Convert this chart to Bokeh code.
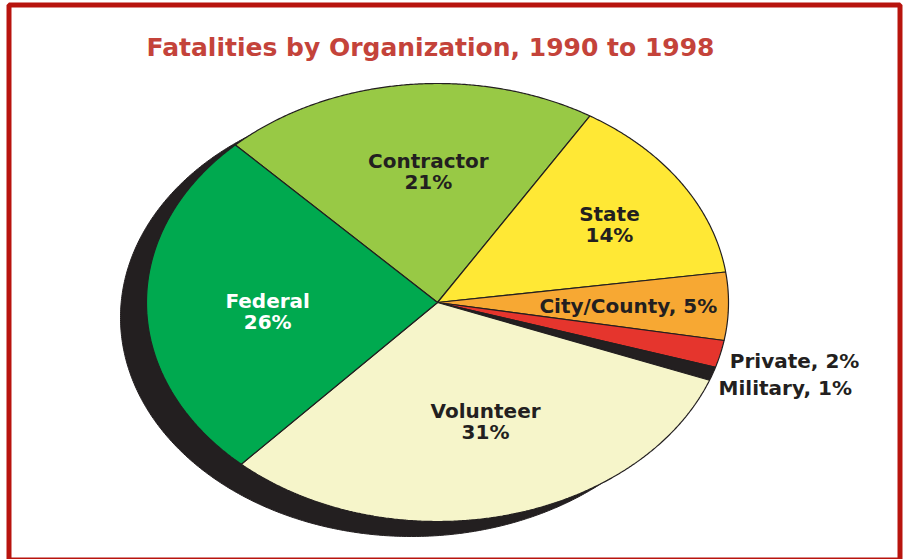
import numpy as np
from bokeh.plotting import figure
from bokeh.models import Range1d, ColumnDataSource
from bokeh.embed import file_html
from bokeh.resources import INLINE
from bokeh.core.properties import value

# ---------------- data ----------------
title_text = "Fatalities by Organization, 1990 to 1998"
categories = ["Contractor", "State", "City/County", "Private", "Military", "Volunteer", "Federal"]
percentages = [21, 14, 5, 2, 1, 31, 26]
colors = ["#98C945", "#FFE835", "#F7A833", "#E5352D", "#231F20", "#F6F5CA", "#00A94F"]

# ---------------- styles / layout ----------------
label_two_line = [True, True, False, False, False, True, True]
label_colors = ["#231F20", "#231F20", "#231F20", "#231F20", "#231F20", "#231F20", "#FFFFFF"]
label_r = [0.60, 0.69, 0.656, 1.04, 1.041, 0.568, 0.585]     # fraction of radius
label_dtheta = [-3.2, -2.1, -0.2, -1.4, -2.9, 3.5, 3.2]        # degrees nudge
label_align = ["center", "center", "center", "left", "left", "center", "center"]

W, H = 905, 559
cx, cy, rx, ry = 437.0, 302.0, 291.0, 219.0
shadow_dx, shadow_dy = -26.0, 15.0
start_angle = 134.0
FONT = value("DejaVu Sans")
LABEL_SIZE = "20px"

p = figure(width=W, height=H, output_backend="svg", toolbar_location=None,
           x_range=Range1d(0, W), y_range=Range1d(H, 0),
           x_axis_location=None, y_axis_location=None, min_border=0,
           min_border_left=0, min_border_right=0, min_border_top=0, min_border_bottom=0)
p.grid.visible = False
p.background_fill_color = "white"
p.border_fill_color = "white"
p.outline_line_color = None

# frame border
p.quad(left=[8.5], right=[899.5], top=[4.5], bottom=[559.5], fill_color=None,
       line_color="#B8140E", line_width=5)

# shadow
t = np.radians(np.linspace(0, 360, 721))
p.patch(cx + shadow_dx + rx * np.cos(t), cy + shadow_dy - ry * np.sin(t),
        fill_color="#231F20", line_color="#231F20", line_width=1)

# slices
fr = np.array(percentages, dtype=float) / sum(percentages)
ends = start_angle - 360.0 * np.cumsum(fr)
starts = ends + 360.0 * fr
xs, ys = [], []
for a0, a1 in zip(starts, ends):
    n = max(int(abs(a0 - a1) * 3), 6)
    tt = np.radians(np.linspace(a0, a1, n))
    xs.append(np.concatenate([[cx], cx + rx * np.cos(tt), [cx]]).tolist())
    ys.append(np.concatenate([[cy], cy - ry * np.sin(tt), [cy]]).tolist())
src = ColumnDataSource(dict(xs=xs, ys=ys, color=colors, cat=categories))
p.patches("xs", "ys", source=src, fill_color="color", line_color="#231F20", line_width=1.2)

# labels
mids = (starts + ends) / 2.0
for i, cat in enumerate(categories):
    ang = np.radians(mids[i] + label_dtheta[i])
    ax = cx + label_r[i] * rx * np.cos(ang)
    ay = cy - label_r[i] * ry * np.sin(ang)
    pct = f"{percentages[i]}%"
    if label_two_line[i]:
        p.text(x=[ax, ax], y=[ay - 10.5, ay + 10.5], text=[cat, pct],
               text_font=FONT, text_font_style="bold", text_font_size=LABEL_SIZE,
               text_color=label_colors[i], text_align="center", text_baseline="middle")
    else:
        p.text(x=[ax], y=[ay], text=[f"{cat}, {pct}"],
               text_font=FONT, text_font_style="bold", text_font_size=LABEL_SIZE,
               text_color=label_colors[i], text_align=label_align[i], text_baseline="middle")

# title
p.text(x=[430], y=[47], text=[title_text], text_font=FONT, text_font_style="bold",
       text_font_size="25px", text_color="#C4433A", text_align="center",
       text_baseline="alphabetic")

open("out.html", "w").write(file_html(p, INLINE))
